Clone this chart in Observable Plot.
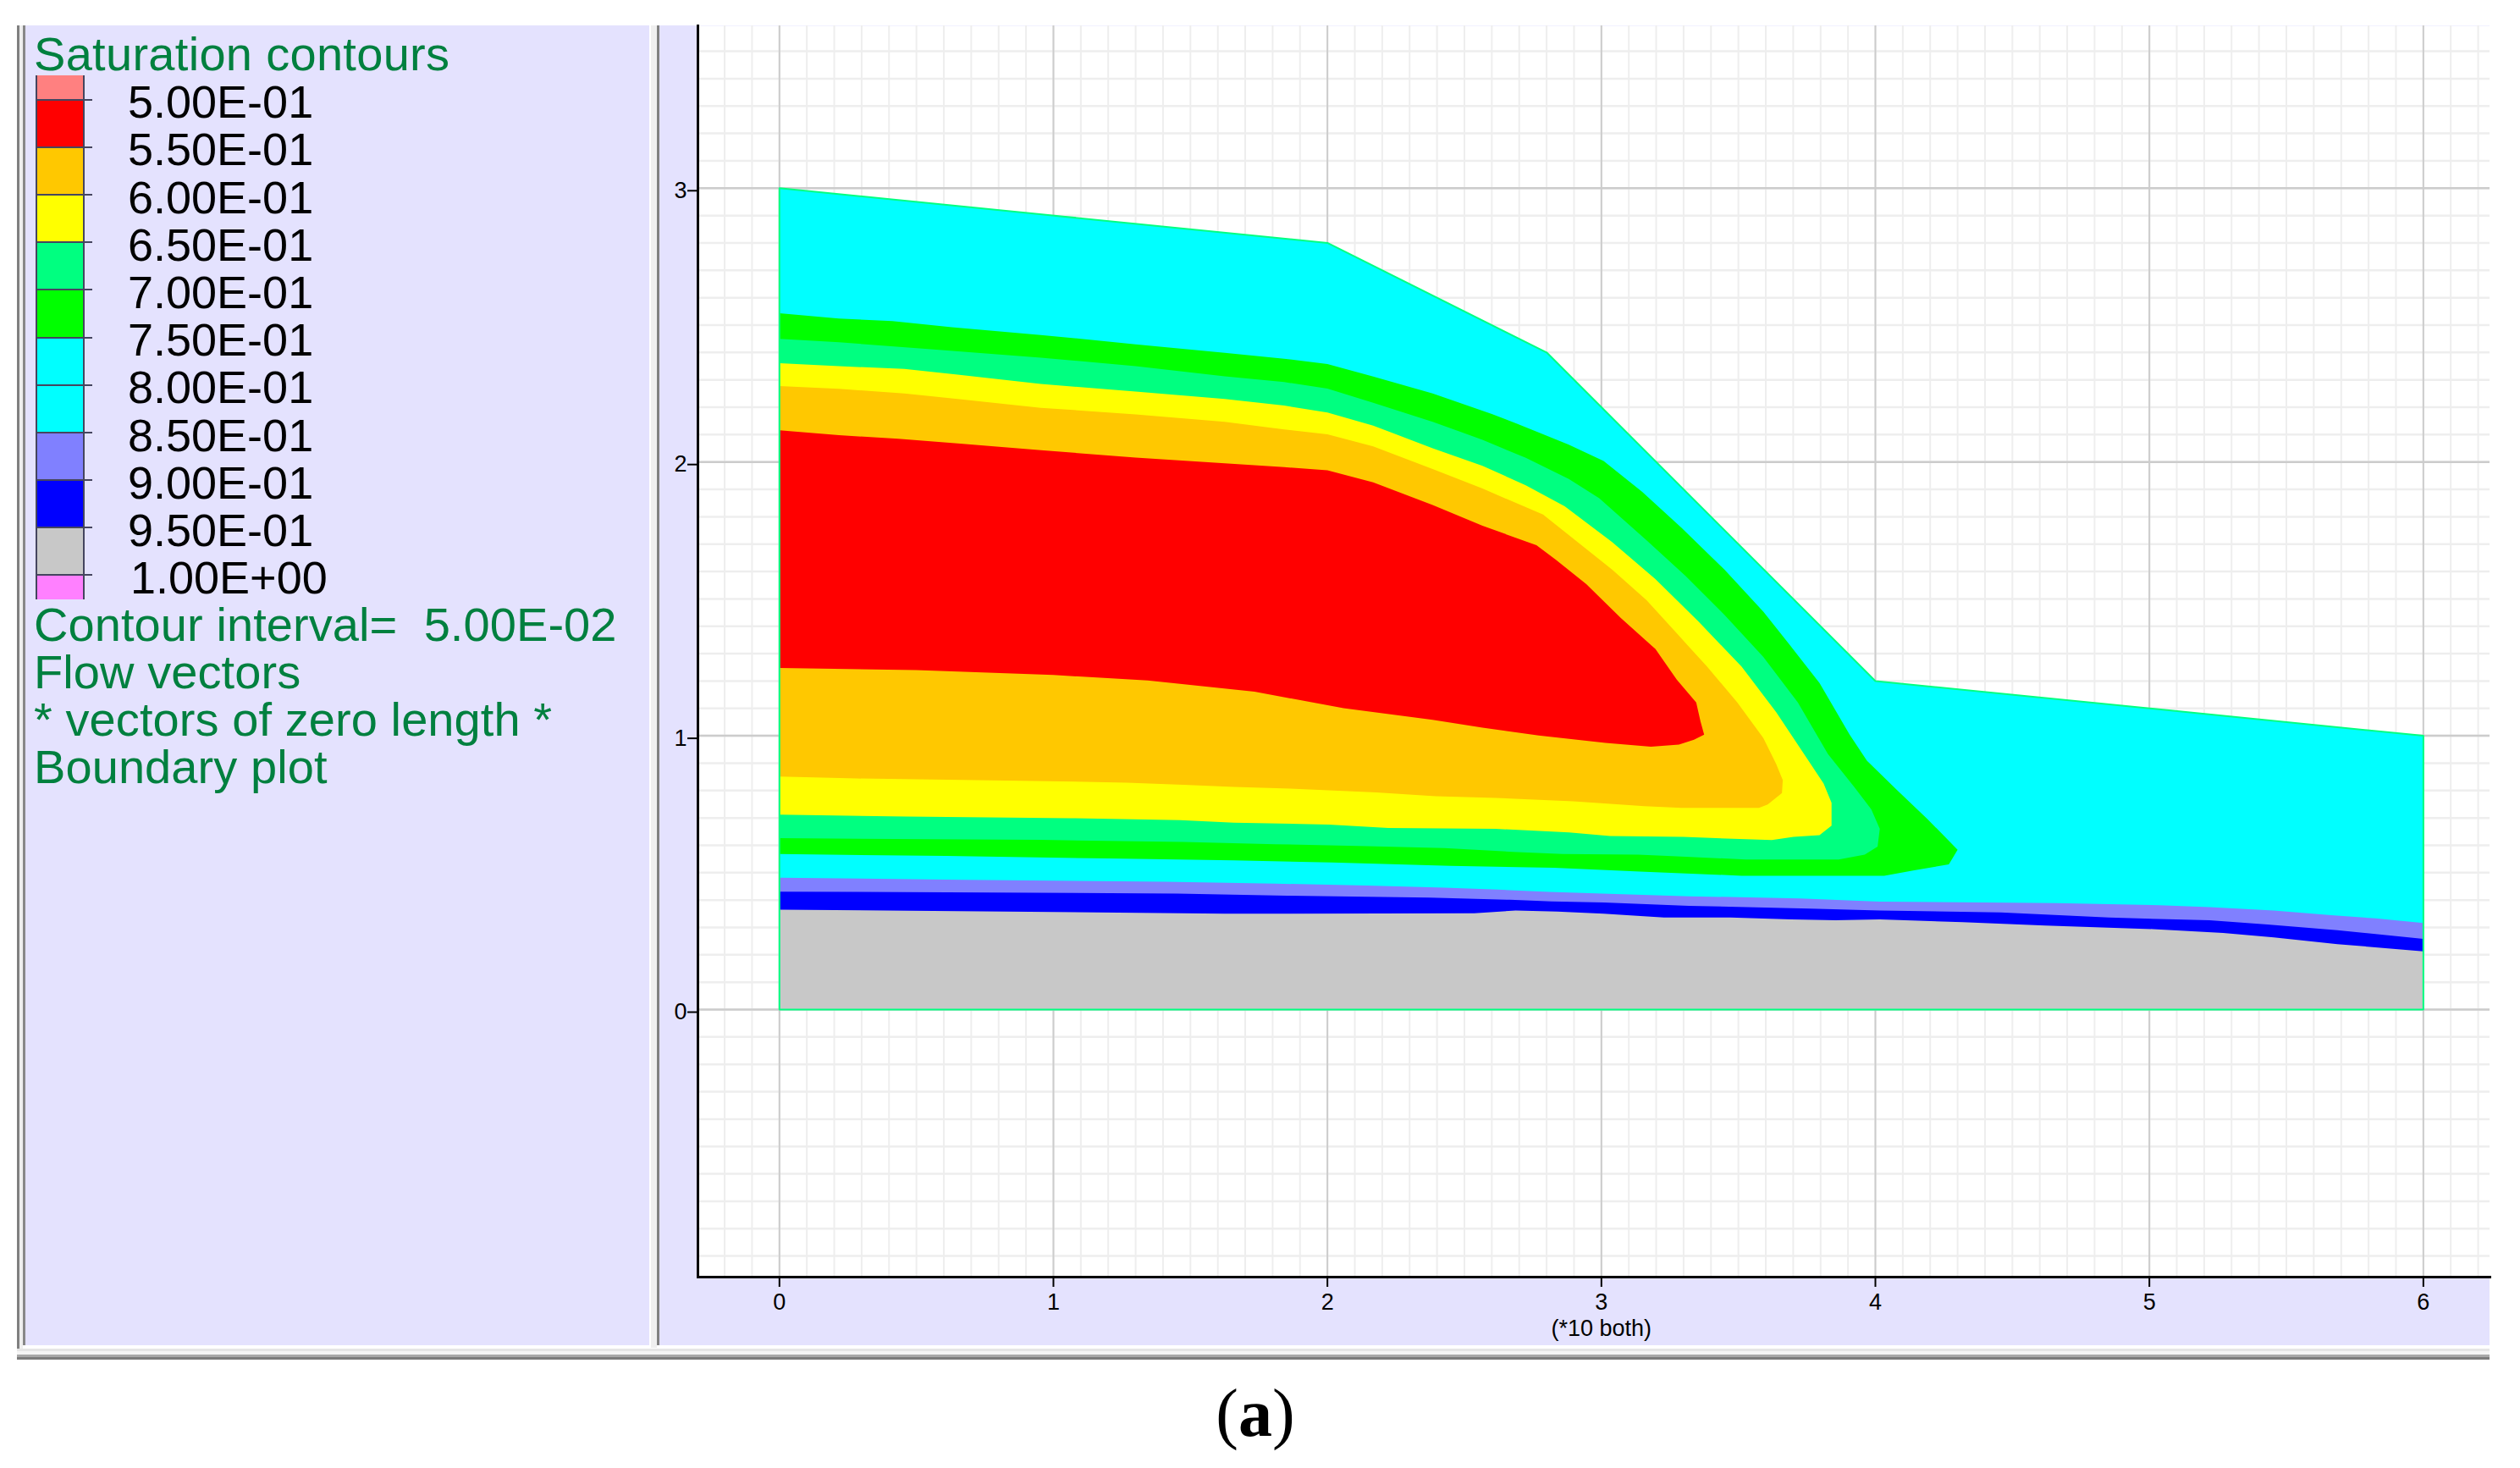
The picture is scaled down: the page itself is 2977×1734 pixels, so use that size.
<!DOCTYPE html>
<html>
<head>
<meta charset="utf-8">
<script src="https://cdn.jsdelivr.net/npm/d3@7"></script>
<script src="https://cdn.jsdelivr.net/npm/@observablehq/plot@0.6"></script>
<style>
html,body{margin:0;padding:0;background:#fff;width:2977px;height:1734px;overflow:hidden;font-family:"Liberation Sans",Arial,sans-serif}
.b{position:absolute}
.t{position:absolute;white-space:pre;line-height:1;font-family:"Liberation Sans",Arial,sans-serif}
</style>
</head>
<body>
<div id="root"></div>
<script>
// ---- data (x, y in the plot's own units) ----
const boundary = [[0,3],[2,2.8],[2.8,2.4],[4,1.2],[6,1],[6,0],[0,0],[0,3]];

const band70 = [[0,2.543],[.217,2.524],[.412,2.515],[.629,2.492],[.954,2.464],[1.3,2.43],[1.625,2.399],[1.842,2.377],[2,2.358],[2.167,2.312],[2.384,2.25],[2.6,2.175],[2.692,2.14],[2.881,2.063],[3.008,2.004],[3.149,1.891],[3.291,1.761],[3.449,1.607],[3.591,1.453],[3.685,1.335],[3.796,1.193],[3.906,1.004],[3.969,.909],[4.079,.802],[4.19,.696],[4.3,.584],[4.268,.53],[4.142,.509],[4.032,.489],[3.512,.489],[3.141,.504],[2.826,.518],[2.449,.525],[2.016,.537],[1.658,.545],[1.203,.552],[.607,.561],[0,.568]];
const band65 = [[0,2.45],[.217,2.437],[.542,2.413],[.954,2.381],[1.3,2.35],[1.625,2.313],[1.842,2.292],[2,2.268],[2.167,2.216],[2.384,2.147],[2.566,2.081],[2.724,2.015],[2.881,1.938],[2.992,1.868],[3.165,1.714],[3.307,1.584],[3.449,1.442],[3.591,1.288],[3.717,1.122],[3.827,.933],[3.922,.814],[3.985,.731],[4.016,.66],[4.008,.595],[3.961,.566],[3.866,.548],[3.528,.548],[3.275,.56],[3.134,.566],[2.858,.568],[2.677,.576],[2.427,.59],[2.146,.597],[1.81,.604],[1.474,.612],[.954,.62],[0,.626]];
const band60 = [[0,2.361],[.217,2.35],[.456,2.34],[.65,2.319],[.954,2.285],[1.3,2.257],[1.625,2.23],[1.842,2.206],[2,2.181],[2.167,2.133],[2.384,2.05],[2.566,1.986],[2.724,1.915],[2.866,1.838],[3.039,1.708],[3.197,1.572],[3.354,1.418],[3.512,1.252],[3.638,1.086],[3.748,.921],[3.811,.826],[3.84,.755],[3.84,.672],[3.796,.637],[3.701,.631],[3.622,.619],[3.528,.622],[3.299,.631],[3.031,.634],[2.882,.647],[2.613,.66],[2.222,.663],[2.005,.676],[1.658,.683],[1.463,.692],[1.062,.699],[.466,.705],[0,.712]];
const band55 = [[0,2.277],[.217,2.267],[.456,2.25],[.65,2.23],[.954,2.198],[1.3,2.174],[1.625,2.147],[1.842,2.119],[2,2.101],[2.167,2.057],[2.384,1.974],[2.566,1.903],[2.787,1.808],[2.913,1.708],[3.039,1.607],[3.165,1.495],[3.268,1.382],[3.386,1.252],[3.496,1.122],[3.591,.992],[3.638,.897],[3.662,.838],[3.659,.791],[3.607,.749],[3.575,.737],[3.449,.737],[3.291,.737],[3.157,.743],[2.897,.761],[2.613,.773],[2.395,.779],[2.178,.793],[1.864,.807],[1.658,.813],[1.474,.821],[1.268,.829],[.878,.836],[.282,.844],[0,.851]];
const band50 = [[0,2.116],[.217,2.098],[.433,2.085],[.65,2.068],[.954,2.043],[1.3,2.016],[1.625,1.995],[1.842,1.981],[2,1.97],[2.167,1.926],[2.384,1.843],[2.566,1.767],[2.763,1.696],[2.834,1.643],[2.945,1.554],[3.071,1.43],[3.197,1.317],[3.275,1.205],[3.346,1.122],[3.362,1.051],[3.375,1.004],[3.338,.986],[3.283,.968],[3.181,.96],[3.015,.974],[2.771,1.001],[2.566,1.03],[2.384,1.058],[2.059,1.101],[1.734,1.161],[1.344,1.202],[1,1.222],[.5,1.24],[0,1.248]];

const band85 = [[0,.482],[.672,.474],[1.409,.467],[1.81,.46],[2.146,.453],[2.427,.445],[2.621,.438],[2.81,.43],[3.003,.424],[3.323,.414],[3.725,.406],[4.016,.394],[4.662,.389],[5.037,.381],[5.22,.374],[5.454,.362],[5.663,.345],[5.825,.333],[6,.316],[6,0],[0,0]];
const band90 = [[0,.431],[1.452,.424],[1.853,.416],[2.373,.409],[2.666,.401],[2.818,.395],[3.008,.391],[3.32,.379],[3.761,.369],[4.016,.362],[4.457,.355],[4.852,.336],[5.22,.326],[5.431,.311],[5.686,.29],[6,.258],[6,0],[0,0]];
const band95 = [[0,.365],[.824,.358],[1.625,.35],[2.536,.352],[2.687,.362],[2.839,.358],[3.008,.35],[3.228,.336],[3.471,.336],[3.692,.329],[3.854,.326],[4.016,.329],[4.318,.319],[4.62,.307],[5.014,.294],[5.269,.28],[5.454,.264],[5.686,.239],[6,.213],[6,0],[0,0]];

const xTicks = [0,1,2,3,4,5,6];
const yTicks = [0,1,2,3];
const xMinor = d3.range(-2,63).map(d=>d/10);
const yMinor = d3.range(-9,36).map(d=>d/10);

const legendLabels = ["5.00E-01","5.50E-01","6.00E-01","6.50E-01","7.00E-01","7.50E-01","8.00E-01","8.50E-01","9.00E-01","9.50E-01","1.00E+00"];
const legendColors = ["#ff8080","#ff0000","#ffc800","#ffff00","#00ff80","#00ff00","#00ffff","#00ffff","#8080ff","#0000ff","#c8c8c8","#ff80ff"];
const notes = ["Contour interval=  5.00E-02","Flow vectors","* vectors of zero length *","Boundary plot"];

// ---- page furniture ----
const root = document.getElementById("root");
function box(l,t,w,h,c){const d=document.createElement("div");d.className="b";d.style.cssText=`left:${l}px;top:${t}px;width:${w}px;height:${h}px;background:${c}`;root.appendChild(d);return d;}
function text(s,l,baseline,size,c,extra=""){const d=document.createElement("div");d.className="t";d.textContent=s;
  d.style.cssText=`left:${l}px;top:${baseline-size*0.905-(size*(1-1.117)/2)}px;font-size:${size}px;color:${c};z-index:5;${extra}`;root.appendChild(d);return d;}
const lav="#e4e2fe", grn="#00803f";
box(20,30,3,1574,"#808080"); box(23,30,4,1566,"#eeeeee"); box(27,30,3,1559,"#888888");
box(30,30,737,1559,lav);
box(769,30,7,1562,"#efefef"); box(776,30,3,1559,"#808080");
box(779,30,2162,1559,lav);
box(20,1593,2921,3,"#e6e6e6"); box(20,1596,2921,4,"#f5f5f5"); box(20,1600,2921,3,"#a8a8a8"); box(20,1603,2921,3,"#7c7c7c");

// ---- legend ----
text("Saturation contours",40,83,56,grn,"letter-spacing:.3px");
const edges=[89,118,174,230,286,342,399,455,511,567,623,679,708];
legendColors.forEach((c,i)=>{
  box(43,edges[i],56,edges[i+1]-edges[i],c);
});
edges.slice(1,-1).forEach(e=>box(43,e-1,66,2,"#45455f"));
box(42,89,2,619,"#45455f"); box(98,89,2,619,"#45455f");
legendLabels.forEach((s,i)=>text(s,s==="1.00E+00"?154:151,139+56.2*i,54,"#000"));
notes.forEach((s,i)=>text(s,40,757+56.3*i,56,grn,"letter-spacing:.08px"));
const cap=document.createElement("div");cap.className="t";
cap.innerHTML='(<b>a</b>)';
cap.style.cssText='left:1483px;top:1625px;transform:translateX(-50%);font-family:"Liberation Serif",serif;font-size:80px;color:#000;line-height:88px;z-index:5';
root.appendChild(cap);

// ---- plot ----
const area=(d,c)=>Plot.line(d,{fill:c,stroke:"none"});
const chart = Plot.plot({
  width:2977,height:1734,
  marginLeft:824,marginRight:36,marginTop:30,marginBottom:226,
  style:{background:"transparent",fontFamily:"Liberation Sans",color:"#000",position:"absolute",left:"0",top:"0"},
  x:{domain:[-0.2975,6.243],label:null},
  y:{domain:[-0.977,3.593],label:null},
  marks:[
    Plot.frame({fill:"#fff",stroke:"none"}),
    Plot.ruleX(xMinor,{stroke:"#eeeeee",strokeWidth:2}),
    Plot.ruleY(yMinor,{stroke:"#eeeeee",strokeWidth:2.5}),
    Plot.ruleX(xTicks,{stroke:"#cccccc",strokeWidth:2}),
    Plot.ruleY(yTicks,{stroke:"#cccccc",strokeWidth:2.5}),
    area(boundary,"#00ffff"),
    area(band85,"#8080ff"),
    area(band90,"#0000ff"),
    area(band95,"#c8c8c8"),
    area(band70,"#00ff00"),
    area(band65,"#00ff80"),
    area(band60,"#ffff00"),
    area(band55,"#ffc800"),
    area(band50,"#ff0000"),
    Plot.line(boundary,{stroke:"#00ff80",strokeWidth:2}),
    Plot.axisX({ticks:xTicks,tickSize:12,tickPadding:7,fontSize:27,tickFormat:"d",label:null,stroke:"#000",strokeWidth:2}),
    Plot.axisY({ticks:yTicks,tickSize:12,tickPadding:1,fontSize:27,tickFormat:"d",label:null,stroke:"#000",strokeWidth:2,dy:3}),
    Plot.frame({anchor:"left",stroke:"#000",strokeWidth:3}),
    Plot.frame({anchor:"bottom",stroke:"#000",strokeWidth:3}),
    Plot.text(["(*10 both)"],{x:[3],frameAnchor:"bottom",dy:69,fontSize:27,fill:"#000"})
  ]
});
root.appendChild(chart);
</script>
</body>
</html>
